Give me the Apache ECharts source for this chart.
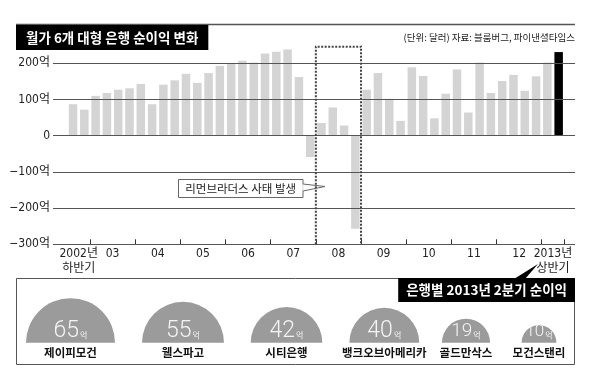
<!DOCTYPE html>
<html>
<head>
<meta charset="utf-8">
<script src="https://cdn.jsdelivr.net/npm/echarts@6/dist/echarts.min.js"></script>
<style>
html,body{margin:0;padding:0;background:#fff;}
#main{width:590px;height:377px;}
</style>
</head>
<body>
<div id="main"></div>
<script>
// 분기별 순이익 (억 달러): 2002년 하반기 ~ 2013년 상반기
var quarters = ['02.3','02.4',
  '03.1','03.2','03.3','03.4','04.1','04.2','04.3','04.4',
  '05.1','05.2','05.3','05.4','06.1','06.2','06.3','06.4',
  '07.1','07.2','07.3','07.4','08.1','08.2','08.3','08.4',
  '09.1','09.2','09.3','09.4','10.1','10.2','10.3','10.4',
  '11.1','11.2','11.3','11.4','12.1','12.2','12.3','12.4',
  '13.1','13.2'];
var profits = [87,72, 110,118,127,131, 143,87,141,153, 171,146,173,193,
  199,207,202,227, 232,238,162,-59, 35,78,28,-257, 127,173,102,41,
  189,165,48,116, 183,64,202,118, 151,168,124,164, 202,231];
var periodLabels = ['2002년\n하반기','03','04','05','06','07','08','09','10','11','12','2013년\n상반기'];
var periodQuarters = [2,4,4,4,4,4,4,4,4,4,4,2];
var yTicks = [-300,-200,-100,0,100,200];
var crisisPeriod = '08';
var crisisTop = 246;
var crisisNote = '리먼브라더스 사태 발생';

// 은행별 2013년 2분기 순이익 (억 달러)
var banks = ['제이피모건','웰스파고','시티은행','뱅크오브아메리카','골드만삭스','모건스탠리'];
var bankProfits = [65,55,42,40,19,10];

var numFont = '"Liberation Sans Narrow","DejaVu Sans Condensed","Noto Sans CJK KR",sans-serif';
var krFont = '"Noto Sans CJK KR",sans-serif';

// 기간 경계(틱)와 라벨 위치
var bounds = [0];
periodQuarters.forEach(function (n) { bounds.push(bounds[bounds.length - 1] + n); });
var tickVals = bounds.slice(1);
var labelVals = periodQuarters.map(function (n, i) { return bounds[i] + n / 2; });
var ci = periodLabels.indexOf(crisisPeriod);

var chart = echarts.init(document.getElementById('main'));

var bankX = [70.5, 183, 286.5, 384.3, 466, 539];
var baseY = 342.7;
var pies = banks.map(function (b, i) {
  var v = bankProfits[i];
  return {
    type: 'pie', silent: true, center: [bankX[i], baseY],
    radius: [0, 5.52 * Math.sqrt(v)], startAngle: 180, endAngle: 360,
    avoidLabelOverlap: false, emphasis: {disabled: true},
    itemStyle: {color: '#9b9b9b'},
    labelLine: {show: false},
    label: {
      show: true, position: 'center', padding: [0, 0, 6, 0],
      formatter: '{v|{c}}{u|억}\n{n|{b}}',
      rich: {
        v: {fontSize: v >= 40 ? 23 : (v > 15 ? 19 : 17), lineHeight: 26, color: '#f4f4f4',
          fontFamily: 'Roboto,"Liberation Sans",sans-serif', fontWeight: 300},
        u: {fontSize: 8, lineHeight: 26, color: '#f4f4f4', fontFamily: krFont, padding: [6, 0, 0, 1]},
        n: {fontSize: 11.5, lineHeight: 16, color: '#111', fontWeight: 'bold', fontFamily: krFont}
      }
    },
    data: [{value: v, name: b}]
  };
});

var option = {
  animation: false,
  title: [
    {text: '월가 6개 대형 은행 순이익 변화', left: 16, top: 25, backgroundColor: '#000',
      padding: [4, 10, 3, 10],
      textStyle: {color: '#fff', fontSize: 13.5, fontWeight: 'bold', lineHeight: 18, fontFamily: krFont}},
    {text: '(단위: 달러) 자료: 블룸버그, 파이낸셜타임스', right: 15, top: 33, padding: 0,
      textStyle: {color: '#222', fontSize: 9.5, fontWeight: 'normal', fontFamily: krFont}},
    {text: '은행별 2013년 2분기 순이익', right: 15, top: 278, backgroundColor: '#000',
      padding: [3, 8, 3, 8],
      textStyle: {color: '#fff', fontSize: 13.5, fontWeight: 'bold', lineHeight: 18, fontFamily: krFont}}
  ],
  grid: [
    {left: 53, right: 15, top: 63.3, height: 181},
    {left: 67.4, right: 25.7, top: 63.3, height: 181}
  ],
  xAxis: [
    {gridIndex: 0, type: 'value', min: 0, max: 1, show: false},
    {gridIndex: 1, type: 'category', data: quarters, show: false},
    {gridIndex: 1, type: 'value', min: 0, max: bounds[bounds.length - 1], position: 'bottom',
      axisLine: {show: false, onZero: false}, splitLine: {show: false},
      axisTick: {show: true, inside: true, length: 5, customValues: tickVals, lineStyle: {color: '#333'}},
      axisLabel: {customValues: labelVals, margin: 2, fontSize: 12, lineHeight: 15, color: '#222', fontFamily: numFont,
        formatter: function (v) { var k = labelVals.indexOf(v); return k < 0 ? '' : periodLabels[k]; }}}
  ],
  yAxis: [
    {gridIndex: 0, type: 'value', min: yTicks[0], max: yTicks[yTicks.length - 1], interval: 100, z: 4,
      axisLine: {show: false}, axisTick: {show: false},
      splitLine: {lineStyle: {color: '#555', width: 1}},
      axisLabel: {margin: 3, fontSize: 12, color: '#222', fontFamily: numFont,
        formatter: function (v) { return v === 0 ? '0' : (v < 0 ? '−' + (-v) : v) + '억'; }}},
    {gridIndex: 1, type: 'value', min: yTicks[0], max: yTicks[yTicks.length - 1], show: false}
  ],
  graphic: [
    {type: 'line', shape: {x1: 16, y1: 24.5, x2: 575, y2: 24.5}, style: {stroke: '#555', lineWidth: 1.5}},
    {type: 'rect', shape: {x: 16.5, y: 278.5, width: 558, height: 86}, style: {fill: 'none', stroke: '#555', lineWidth: 1}},
    {type: 'polygon', shape: {points: [[514, 279], [525, 279], [538, 264]]}, style: {fill: '#000'}},
    {type: 'group', z: 10, children: [
      {type: 'polygon', shape: {points: [[302, 184], [325, 186.5], [302, 191]]}, style: {fill: '#fff'}},
      {type: 'polyline', shape: {points: [[303, 184], [325, 186.5], [303, 191]]}, style: {fill: 'none', stroke: '#666', lineWidth: 1}},
      {type: 'rect', shape: {x: 178.5, y: 179.5, width: 124.5, height: 18}, style: {fill: '#fff', stroke: '#666', lineWidth: 1}},
      {type: 'line', shape: {x1: 303, y1: 184.5, x2: 303, y2: 190.5}, style: {stroke: '#fff', lineWidth: 1.5}},
      {type: 'text', style: {x: 240.7, y: 188.8, text: crisisNote, align: 'center', verticalAlign: 'middle',
        fill: '#222', font: '11.5px "Noto Sans CJK KR", sans-serif'}}
    ]}
  ],
  series: [
    {type: 'bar', xAxisIndex: 1, yAxisIndex: 1, silent: true, clip: false, barWidth: 8.5, z: 2,
      data: profits.map(function (v, i) {
        return {value: v, itemStyle: {color: i === profits.length - 1 ? '#000' : '#d4d4d4'}};
      })},
    {type: 'custom', xAxisIndex: 2, yAxisIndex: 1, silent: true, clip: false, z: 6,
      data: [[bounds[ci], bounds[ci + 1], crisisTop]],
      renderItem: function (params, api) {
        var a = api.coord([api.value(0), api.value(2)]);
        var b = api.coord([api.value(1), yTicks[0]]);
        return {type: 'polyline', shape: {points: [[a[0], b[1]], [a[0], a[1]], [b[0], a[1]], [b[0], b[1]]]},
          style: {fill: 'none', stroke: '#444', lineWidth: 2, lineDash: [2, 1.5]}};
      }}
  ].concat(pies)
};
chart.setOption(option);
</script>
</body>
</html>
